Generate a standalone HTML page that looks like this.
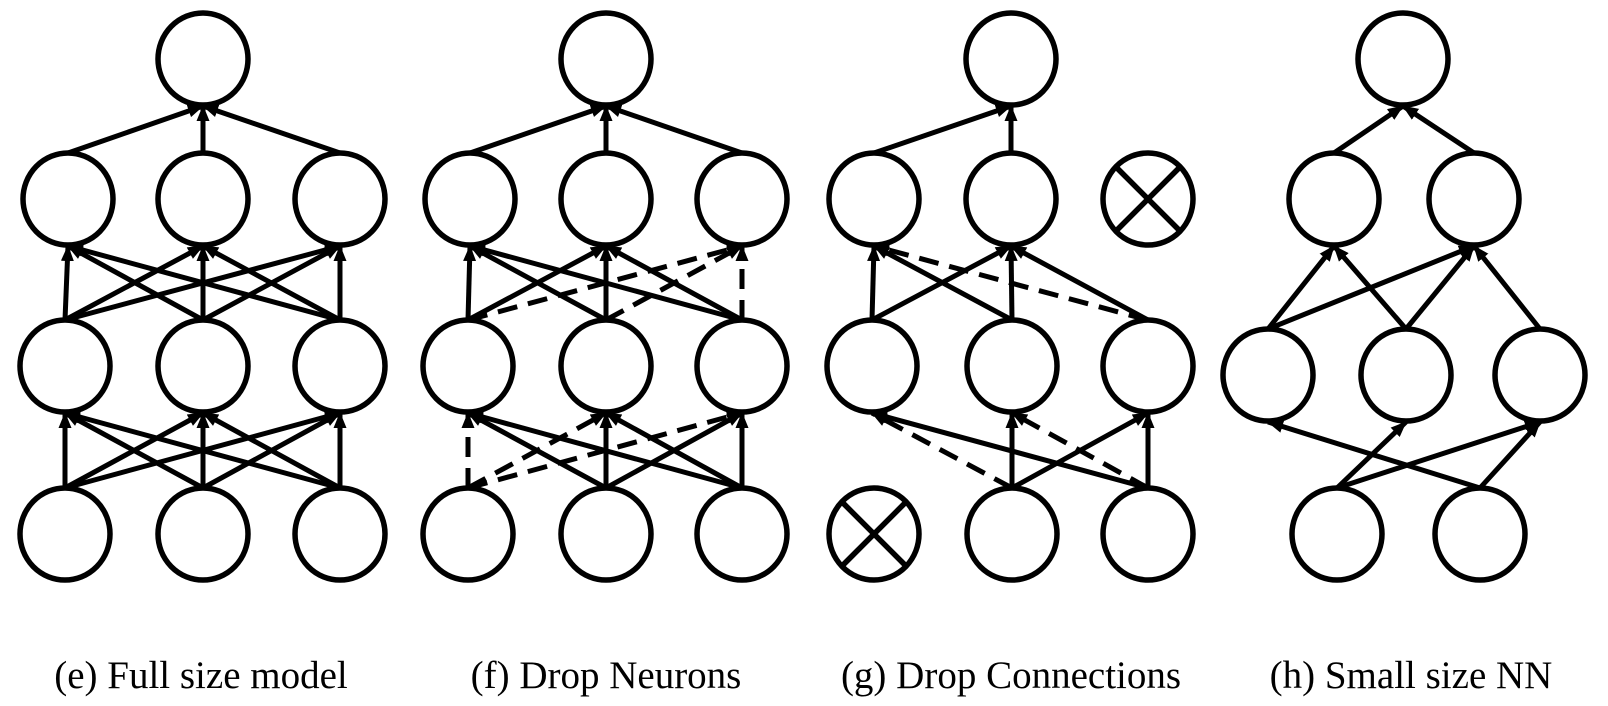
<!DOCTYPE html>
<html><head><meta charset="utf-8"><style>
html,body{margin:0;padding:0;background:#fff;}
svg{display:block;}
text{font-family:"Liberation Serif",serif;font-size:39px;fill:#000;}
</style></head><body>
<svg id="fig" width="1608" height="706" viewBox="0 0 1608 706" xmlns="http://www.w3.org/2000/svg">
<defs>
<marker id="ahb" markerWidth="16" markerHeight="14" refX="15" refY="7" orient="auto" markerUnits="userSpaceOnUse"><path d="M0,0.5 L16,7 L0,13.5 z" fill="#000"/></marker></defs>
<g id="edges"></g><g id="nodes"></g>
<text x="201" y="688" text-anchor="middle">(e) Full size model</text>
<text x="606" y="688" text-anchor="middle">(f) Drop Neurons</text>
<text x="1011" y="688" text-anchor="middle">(g) Drop Connections</text>
<text x="1411" y="688" text-anchor="middle">(h) Small size NN</text>
</svg>
<script>
// nodes: [panel, id, x, y, dropped]
const nodes = [
 ['e','t',203,59,0],['e','a1',68,199,0],['e','a2',203,199,0],['e','a3',340,199,0],
 ['e','b1',65,366,0],['e','b2',203,366,0],['e','b3',340,366,0],
 ['e','c1',65,534,0],['e','c2',203,534,0],['e','c3',340,534,0],
 ['f','t',606,59,0],['f','a1',470,199,0],['f','a2',606,199,0],['f','a3',742,199,0],
 ['f','b1',468,366,0],['f','b2',606,366,0],['f','b3',742,366,0],
 ['f','c1',468,534,0],['f','c2',606,534,0],['f','c3',742,534,0],
 ['g','t',1011,59,0],['g','a1',874,199,0],['g','a2',1011,199,0],['g','a3',1148,199,1],
 ['g','b1',872,366,0],['g','b2',1012,366,0],['g','b3',1148,366,0],
 ['g','c1',874,534,1],['g','c2',1012,534,0],['g','c3',1148,534,0],
 ['h','t',1403,59,0],['h','a1',1334,199,0],['h','a2',1474,199,0],
 ['h','b1',1268,375,0],['h','b2',1406,375,0],['h','b3',1540,375,0],
 ['h','c1',1337,534,0],['h','c2',1480,534,0]
];
// edges: [panel, from, to, dashed]
const edges = [
 ['e','a1','t',0],['e','a2','t',0],['e','a3','t',0],
 ['e','b1','a1',0],['e','b1','a2',0],['e','b1','a3',0],['e','b2','a1',0],['e','b2','a2',0],['e','b2','a3',0],['e','b3','a1',0],['e','b3','a2',0],['e','b3','a3',0],
 ['e','c1','b1',0],['e','c1','b2',0],['e','c1','b3',0],['e','c2','b1',0],['e','c2','b2',0],['e','c2','b3',0],['e','c3','b1',0],['e','c3','b2',0],['e','c3','b3',0],
 ['f','a1','t',0],['f','a2','t',0],['f','a3','t',0],
 ['f','b1','a1',0],['f','b1','a2',0],['f','b1','a3',1],['f','b2','a1',0],['f','b2','a2',0],['f','b2','a3',1],['f','b3','a1',0],['f','b3','a2',0],['f','b3','a3',1],
 ['f','c1','b1',1],['f','c1','b2',1],['f','c1','b3',1],['f','c2','b1',0],['f','c2','b2',0],['f','c2','b3',0],['f','c3','b1',0],['f','c3','b2',0],['f','c3','b3',0],
 ['g','a1','t',0],['g','a2','t',0],
 ['g','b1','a1',0],['g','b1','a2',0],['g','b2','a1',0],['g','b2','a2',0],['g','b3','a1',1],['g','b3','a2',0],
 ['g','c2','b1',1],['g','c2','b2',0],['g','c2','b3',0],['g','c3','b1',0],['g','c3','b2',1],['g','c3','b3',0],
 ['h','a1','t',0],['h','a2','t',0],
 ['h','b1','a1',0],['h','b1','a2',0],['h','b2','a1',0],['h','b2','a2',0],['h','b3','a2',0],
 ['h','c2','b1',0],['h','c1','b2',0],['h','c1','b3',0],['h','c2','b3',0]
];
const NS='http://www.w3.org/2000/svg', RX=45, RY=46;
const eg=document.getElementById('edges'), ng=document.getElementById('nodes');
function find(p,id){return nodes.find(n=>n[0]===p&&n[1]===id);}
edges.forEach(e=>{
  const s=find(e[0],e[1]), t=find(e[0],e[2]);
  const l=document.createElementNS(NS,'line');
  l.setAttribute('x1',s[2]);l.setAttribute('y1',s[3]-RY);
  l.setAttribute('x2',t[2]);l.setAttribute('y2',t[3]+RY+1);
  l.setAttribute('stroke','#000');l.setAttribute('stroke-width','5');
  if(e[3]) l.setAttribute('stroke-dasharray','20 11');
  l.setAttribute('marker-end','url(#ahb)');
  
  
  eg.appendChild(l);
});
nodes.forEach(n=>{
  const g=document.createElementNS(NS,'g');
  
  
  const c=document.createElementNS(NS,'ellipse');
  c.setAttribute('cx',n[2]);c.setAttribute('cy',n[3]);c.setAttribute('rx',RX);c.setAttribute('ry',RY);
  c.setAttribute('fill','#fff');c.setAttribute('stroke','#000');c.setAttribute('stroke-width','5.5');
  g.appendChild(c);
  if(n[4]){
    const d=32;
    [[-1,-1,1,1],[-1,1,1,-1]].forEach(k=>{
      const l=document.createElementNS(NS,'line');
      l.setAttribute('x1',n[2]+k[0]*d);l.setAttribute('y1',n[3]+k[1]*d);
      l.setAttribute('x2',n[2]+k[2]*d);l.setAttribute('y2',n[3]+k[3]*d);
      l.setAttribute('stroke','#000');l.setAttribute('stroke-width','5.5');
      g.appendChild(l);
    });
  }
  ng.appendChild(g);
});
</script>
</body></html>
